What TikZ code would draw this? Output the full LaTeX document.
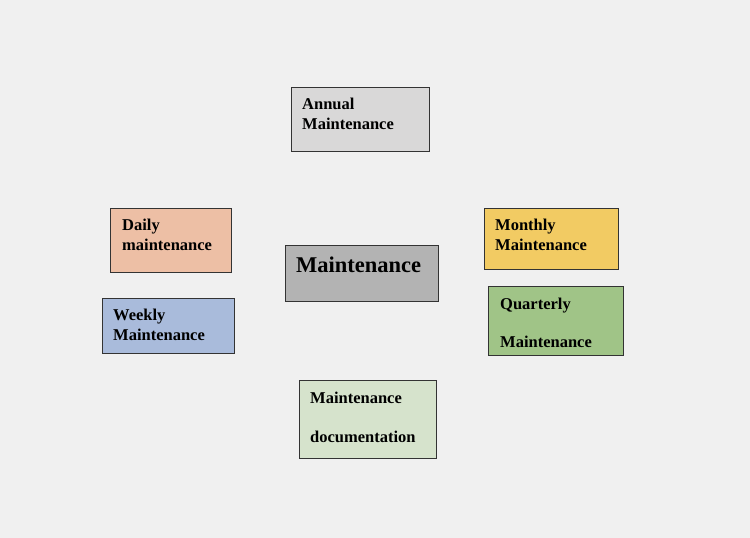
\documentclass[tikz,border=0pt]{standalone}
\usepackage{fontspec}
\setmainfont{Liberation Serif}
\usetikzlibrary{positioning}
\definecolor{bggray}{HTML}{F0F0F0}
\definecolor{annualgray}{HTML}{D9D8D8}
\definecolor{maingray}{HTML}{B3B3B3}
\definecolor{dailyrose}{HTML}{EDBFA5}
\definecolor{weeklyblue}{HTML}{A9BBDB}
\definecolor{monthlygold}{HTML}{F2CB63}
\definecolor{quartgreen}{HTML}{A0C487}
\definecolor{docgreen}{HTML}{D6E3CC}
\definecolor{edgegray}{HTML}{333333}
\begin{document}
\begin{tikzpicture}[x=1pt,y=-1pt,
    box/.style={draw=edgegray,line width=0.8pt,anchor=north west,inner sep=0pt},
    txt/.style={anchor=north west,inner sep=0pt,align=left,
        font=\fontsize{16.5}{20}\selectfont\bfseries}]
                        \fill[bggray] (0,0) rectangle (750,538);
                        \useasboundingbox (0,0) rectangle (750,538);
                        % boxes
                        \node[box,fill=annualgray,minimum width=138pt,minimum height=64pt] (annual) at (291,87) {};
                        \node[box,fill=maingray,minimum width=153pt,minimum height=56pt] (main) at (285,245) {};
                        \node[box,fill=dailyrose,minimum width=121pt,minimum height=64pt] (daily) at (110,208) {};
                        \node[box,fill=weeklyblue,minimum width=132pt,minimum height=55pt] (weekly) at (102,298) {};
                        \node[box,fill=monthlygold,minimum width=134pt,minimum height=61pt] (monthly) at (484,208) {};
                        \node[box,fill=quartgreen,minimum width=135pt,minimum height=69pt] (quarterly) at (488,286) {};
                        \node[box,fill=docgreen,minimum width=137pt,minimum height=78pt] (doc) at (299,380) {};
                        % texts
                        \node[txt] (annual-text) at (302,98) {Annual\\Maintenance};
                        \node[txt,font=\fontsize{22.5}{26}\selectfont\bfseries] (main-text) at (296,257) {Maintenance};
                        \node[txt] (daily-text) at (122,219) {Daily\\maintenance};
                        \node[txt] (weekly-text) at (113,309) {Weekly\\Maintenance};
                        \node[txt] (monthly-text) at (495,219) {Monthly\\Maintenance};
                        \node[txt] (quarterly-text) at (500,298) {Quarterly\\[18pt]Maintenance};
                        \node[txt] (doc-text) at (310,392) {Maintenance\\[19pt]documentation};
                    \end{tikzpicture}
\end{document}
